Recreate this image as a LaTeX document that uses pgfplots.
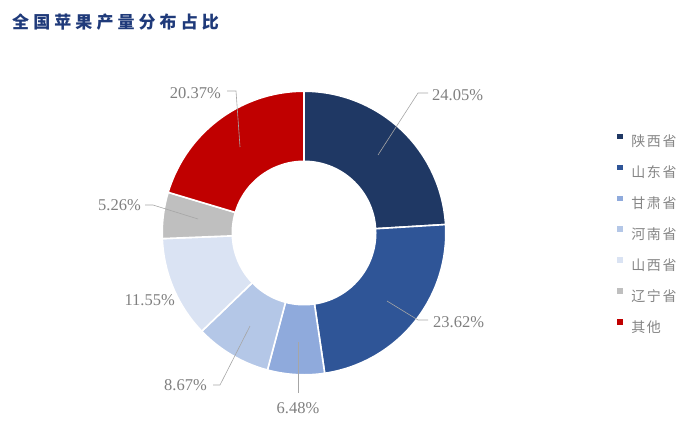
\documentclass[border=0pt]{standalone}
\usepackage{fontspec}
\setmainfont{Liberation Serif}
\newfontfamily\cjktitle[LetterSpace=24]{Noto Sans CJK SC}
\newfontfamily\cjk[LetterSpace=12]{Noto Sans CJK SC}
\usepackage{pgfplots}
\pgfplotsset{compat=1.18}
\definecolor{c1}{HTML}{1F3864}
\definecolor{c2}{HTML}{2F5597}
\definecolor{c3}{HTML}{8FAADC}
\definecolor{c4}{HTML}{B4C7E7}
\definecolor{c5}{HTML}{DAE3F3}
\definecolor{c6}{HTML}{BFBFBF}
\definecolor{c7}{HTML}{C00000}
\definecolor{titleblue}{HTML}{1F3A7A}
\definecolor{txtgray}{HTML}{7F7F7F}
\definecolor{leggray}{HTML}{858585}
\definecolor{linegray}{HTML}{A6A6A6}
% slice: color, cumulative start (%), value (%), name
\newcommand{\slice}[4]{%
  \addplot[fill=#1, draw=white, line width=1.6pt, domain=0:1, samples=60, variable=\t]
    ({304+141.8*cos(90-3.6*(#2+#3*\t))},{188+141.8*sin(90-3.6*(#2+#3*\t))}) -- (axis cs:304,188) -- cycle;
  \addlegendentry{#4}}
\begin{document}
\begin{tikzpicture}
\useasboundingbox (0,0) rectangle (700pt,421pt);
\begin{axis}[
  at={(0,0)}, anchor=south west,
  x=1pt, y=1pt, xmin=0, xmax=700, ymin=0, ymax=421,
  hide axis, clip=false,
  legend style={at={(axis cs:617,287.5)}, anchor=north west, draw=none, fill=none,
    inner sep=0pt, row sep=15.8pt,
    font=\cjk\fontsize{14}{14}\selectfont, text=leggray,
    nodes={inner sep=0pt, text height=12pt, text depth=2pt},
    /tikz/every odd column/.append style={column sep=8.5pt}},
  legend cell align=left,
  legend image code/.code={\path[#1, draw=none] (0pt,2.5pt) rectangle (5.6pt,8.1pt);},
]
\slice{c1}{0}{24.05}{陕西省}
\slice{c2}{24.05}{23.62}{山东省}
\slice{c3}{47.67}{6.48}{甘肃省}
\slice{c4}{54.15}{8.67}{河南省}
\slice{c5}{62.82}{11.55}{山西省}
\slice{c6}{74.37}{5.26}{辽宁省}
\slice{c7}{79.63}{20.37}{其他}
\addplot[fill=white, draw=none, domain=0:360, samples=120, forget plot]
  ({304+72.5*cos(x)},{188+72.5*sin(x)}) -- cycle;
% leader lines
\draw[linegray, line width=0.6pt] (axis cs:378,266) -- (axis cs:418,328) -- (axis cs:428,328);
\draw[linegray, line width=0.6pt] (axis cs:227,330) -- (axis cs:236,330) -- (axis cs:240,274);
\draw[linegray, line width=0.6pt] (axis cs:145,216) -- (axis cs:153,216) -- (axis cs:198,202);
\draw[linegray, line width=0.6pt] (axis cs:213,36) -- (axis cs:220,36) -- (axis cs:250,95);
\draw[linegray, line width=0.6pt] (axis cs:298,28) -- (axis cs:298,79);
\draw[linegray, line width=0.6pt] (axis cs:387,120) -- (axis cs:418,101) -- (axis cs:428,101);
% labels
\begin{scope}[every node/.style={text=txtgray, font=\fontsize{16.5}{16.5}\selectfont, inner sep=0pt}]
\node[anchor=west] at (axis cs:432,326) {24.05\%};
\node[anchor=east] at (axis cs:221,328) {20.37\%};
\node[anchor=east] at (axis cs:141,216) {5.26\%};
\node[anchor=east] at (axis cs:175,121) {11.55\%};
\node[anchor=east] at (axis cs:207,36) {8.67\%};
\node at (axis cs:298,13) {6.48\%};
\node[anchor=west] at (axis cs:433,99) {23.62\%};
\end{scope}
\node[anchor=west, inner sep=0pt, text=titleblue, font=\cjktitle\bfseries\fontsize{17}{17}\selectfont] at (axis cs:12,399) {全国苹果产量分布占比};
\end{axis}
\end{tikzpicture}
\end{document}
